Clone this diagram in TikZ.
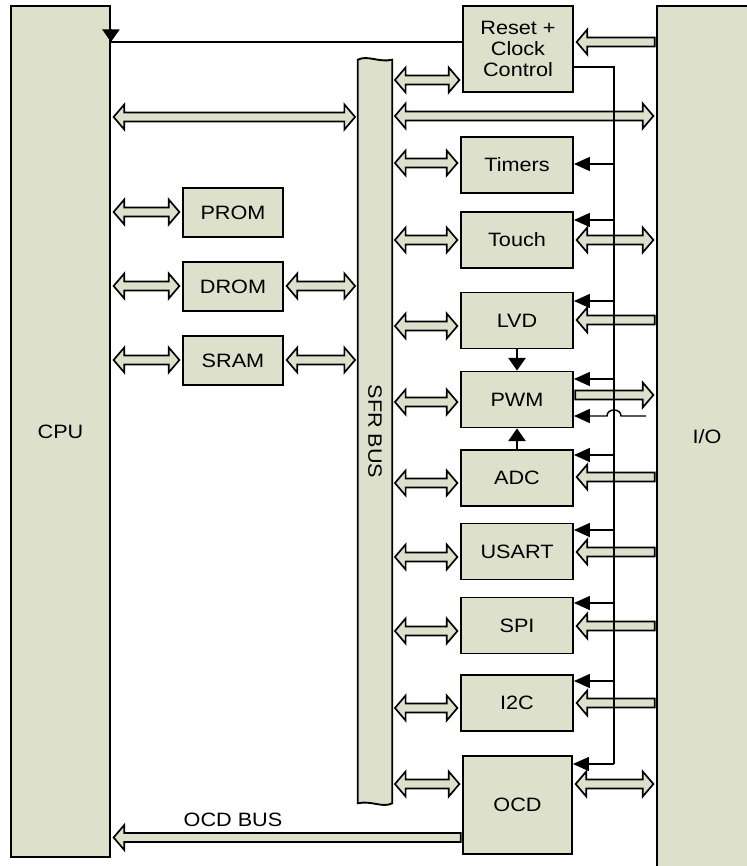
\documentclass[tikz,border=0pt]{standalone}
\usepackage{fontspec}
\setmainfont{Liberation Sans}[FakeStretch=1.12]
\usetikzlibrary{arrows.meta,calc}
\definecolor{blockfill}{RGB}{221,224,202}

% fat bus arrows: start, end, height (px)
\def\headlen{8pt}
\newcommand{\busdbl}[3]{%
  \path (#1 |- 0,#3) coordinate (bs0) (#2 |- 0,#3) coordinate (be0);
  \path ($(bs0)!2pt!(be0)$) coordinate (bs) ($(be0)!2pt!(bs0)$) coordinate (be);
  \draw[bus] (bs) -- ($(bs)!\headlen!(be)+(0,-12.5)$) -- ($(bs)!\headlen!(be)+(0,-4.5)$)
    -- ($(be)!\headlen!(bs)+(0,-4.5)$) -- ($(be)!\headlen!(bs)+(0,-12.5)$) -- (be)
    -- ($(be)!\headlen!(bs)+(0,12.5)$) -- ($(be)!\headlen!(bs)+(0,4.5)$)
    -- ($(bs)!\headlen!(be)+(0,4.5)$) -- ($(bs)!\headlen!(be)+(0,12.5)$) -- cycle;}
\newcommand{\busone}[3]{%
  \path (#1 |- 0,#3) coordinate (bs0) (#2 |- 0,#3) coordinate (be0);
  \path ($(bs0)!1pt!(be0)$) coordinate (bs) ($(be0)!2pt!(bs0)$) coordinate (be);
  \draw[bus] ($(bs)+(0,-4.5)$) -- ($(be)!\headlen!(bs)+(0,-4.5)$) -- ($(be)!\headlen!(bs)+(0,-12.5)$) -- (be)
    -- ($(be)!\headlen!(bs)+(0,12.5)$) -- ($(be)!\headlen!(bs)+(0,4.5)$) -- ($(bs)+(0,4.5)$) -- cycle;}

\begin{document}
\begin{tikzpicture}[x=0.75pt,y=-0.75pt,
    frame/.style={draw, line width=1.4pt, fill=blockfill},
    blockbox/.style={frame, inner sep=0pt, minimum width=84pt, minimum height=42pt, align=center},
    bus/.style={draw, line width=1.25pt, fill=blockfill, line join=miter},
    sig/.style={line width=1.1pt, -{Triangle[length=12pt,width=10.5pt]}},
    vsig/.style={line width=1.1pt, -{Triangle[length=9.5pt,width=13pt]}},
    font=\fontsize{14.5}{16}\selectfont]
  \useasboundingbox (0,0) rectangle (746,866);

  % CPU and I/O
  \node[blockbox, minimum width=74.25pt, minimum height=638.25pt] (cpu) at (60.5,431.5) {CPU};
  \node[blockbox, minimum width=75pt, minimum height=646.5pt] (io) at (707,437) {I/O};

  % SFR bus
  \node[inner sep=0pt, minimum width=25.5pt, minimum height=557.25pt] (sfr) at (375,431.5) {};
  \draw[frame] (sfr.south west) -- (sfr.north west)
    .. controls ($(sfr.north west)+(10,-5)$) and ($(sfr.north east)+(-14,3)$) .. (sfr.north east)
    -- (sfr.south east)
    .. controls ($(sfr.south east)+(-10,5)$) and ($(sfr.south west)+(14,-3)$) .. cycle;
  \node[rotate=-90] (sfrtext) at (sfr) {SFR BUS};

  % memories
  \foreach \m/\t/\y in {prom/PROM/212.5, drom/DROM/286.5, sram/SRAM/360.5}
    \node[blockbox, minimum width=75pt, minimum height=37pt] (\m) at (233,\y) {\t};

  % peripherals
  \node[blockbox, minimum width=82.5pt, minimum height=64.5pt] (rst) at (518,49) {Reset +\\Clock\\Control};
  \foreach \m/\t/\y in {tmr/Timers/165, tch/Touch/240, lvd/LVD/320.5, pwm/PWM/399.5,
      adc/ADC/478, usart/USART/551.5, spi/SPI/625.5, iic/I2C/703}
    \node[blockbox] (\m) at (517,\y) {\t};
  \node[blockbox, minimum width=81.75pt, minimum height=73.5pt] (ocd) at (517.5,805) {OCD};

  % buses, CPU side
  \busdbl{cpu.east}{sfr.west}{117}
  \busdbl{cpu.east}{prom.west}{212}
  \busdbl{cpu.east}{drom.west}{286}
  \busdbl{drom.east}{sfr.west}{286}
  \busdbl{cpu.east}{sram.west}{360}
  \busdbl{sram.east}{sfr.west}{360}

  % buses, SFR side
  \foreach \m/\y in {rst/80, tmr/163, tch/240, lvd/326, pwm/402, adc/483, usart/557, spi/631, iic/708, ocd/784}
    {\busdbl{sfr.east}{\m.west}{\y}}
  \busdbl{sfr.east}{io.west}{116}
  \busdbl{tch.east}{io.west}{240}
  \busdbl{ocd.east}{io.west}{784}

  % pins
  \foreach \m/\y in {rst/42, lvd/320, adc/477, usart/552, spi/626, iic/703}
    {\busone{io.west}{\m.east}{\y}}
  \busone{pwm.east}{io.west}{395}
  \busone{ocd.west}{cpu.east}{837.5}
  \node (ocdbus) at (233,820) {OCD BUS};

  % clock + reset
  \coordinate (clktop) at (614,67);
  \coordinate (clkbot) at (614,764);
  \draw[line width=1.1pt] (rst.east |- clktop) -- (clktop) -- (clkbot);
  \draw[sig] (clkbot) -- (ocd.east |- clkbot);
  \foreach \m/\y in {tmr/164, tch/220, lvd/301, pwm/379, adc/455, usart/530, spi/603, iic/681}
    \draw[sig] (clktop |- 0,\y) -- (\m.east |- 0,\y);
  \coordinate (rstout) at (cpu.east |- 0,42);
  \draw[line width=1.1pt] (rst.west |- rstout) -- (rstout);
  \draw[vsig] ($(rstout)+(0,-13)$) -- (rstout);

  % PWM inputs
  \coordinate (pwmin) at (646,416);
  \draw[sig] (pwmin) -- (621,416) .. controls (621,408) and (607,408) .. (607,416) -- (pwm.east |- pwmin);
  \draw[vsig] (lvd) -- (pwm);
  \draw[vsig] (adc) -- (pwm);
\end{tikzpicture}
\end{document}
